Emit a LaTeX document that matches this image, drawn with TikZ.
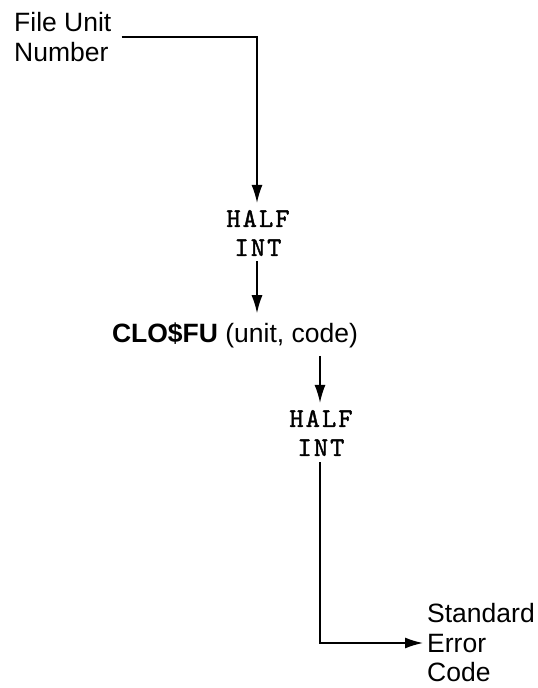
\documentclass[tikz,border=0pt]{standalone}
\usepackage{fontspec}
\setmainfont{Liberation Sans}
\newfontfamily\halffont{lmmono10-regular}[Extension=.otf, LetterSpace=8, FakeBold=1.5]
\usetikzlibrary{arrows.meta}
\tikzset{
  lbl/.style={inner sep=0pt, align=left, font=\fontsize{26.5}{29.5}\selectfont},
  mono/.style={inner sep=0pt, align=center, font=\halffont\fontsize{27}{29}\selectfont},
  func/.style={inner sep=0pt, font=\fontsize{26.5}{29}\selectfont},
  conn/.style={line width=1.5pt},
  arr/.style={conn, -{Latex[length=18pt,width=11pt]}}
}
\begin{document}
\begin{tikzpicture}[x=1pt,y=-1pt]
\useasboundingbox (0,0) rectangle (538,688);
\node[lbl, anchor=west] (fu) at (14,37) {File Unit\\Number};
\node[mono] (h1) at (258,233) {HALF\\INT};
\node[func] (clo) at (235,335) {\textbf{CLO\$FU} (unit, code)};
\node[mono] (h2) at (321,433) {HALF\\INT};
\node[lbl, anchor=west] (sec) at (427,643) {Standard\\Error\\Code};
\coordinate (c1) at (257,37);
\coordinate (c2) at (320,0);
\draw[arr, shorten <=10pt, shorten >=7pt] (fu.east) -| (h1.north -| c1);
\draw[arr, shorten <=5pt, shorten >=9pt] (h1.south -| c1) -- (clo.north -| c1);
\draw[arr, shorten <=8pt, shorten >=7pt] (clo.south -| c2) -- (h2.north -| c2);
\draw[arr, shorten <=6pt, shorten >=4pt] (h2.south -| c2) |- (sec.west);
\end{tikzpicture}
\end{document}
